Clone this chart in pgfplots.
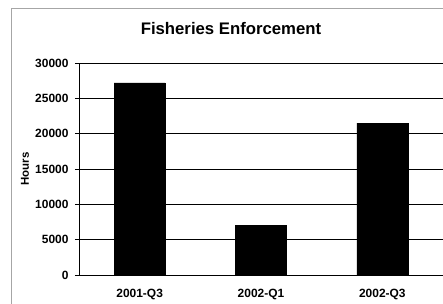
\documentclass[border=0pt]{standalone}
\usepackage{pgfplots}
\pgfplotsset{compat=1.18}
\usepackage{fontspec}
\setmainfont{Liberation Sans}
\begin{document}
\begin{tikzpicture}
\path[use as bounding box, fill=white] (0,0) rectangle (443bp,304bp);
\draw[gray!70, line width=1bp] (11bp,0) -- (11bp,295bp) -- (443bp,295bp);
\begin{axis}[
  at={(79bp,29bp)}, anchor=south west,
  scale only axis, width=364bp, height=212bp,
  xmin=-0.5, xmax=2.5, ymin=0, ymax=30000,
  xtick={0,1,2}, xticklabels={2001-Q3,2002-Q1,2002-Q3},
  ytick={0,5000,...,30000},
  scaled y ticks=false,
  axis x line*=bottom, axis y line*=left,
  x axis line style={-, line width=0.6bp},
  y axis line style={-, line width=0.8bp},
  ymajorgrids, grid style={black, line width=0.8bp},
  major x tick style={draw=none},
  ytick style={black, line width=0.8bp},
  tick align=outside, major tick length=4bp,
  /pgf/number format/1000 sep={},
  /pgf/number format/assume math mode=true,
  ticklabel style={font=\fontsize{12}{14}\selectfont\bfseries},
  xticklabel style={yshift=-7bp},
  yticklabel style={xshift=-3bp},
  clip=false,
]
\addplot[ybar, bar width=51bp, fill=black, draw=black] coordinates {(0,27200) (1,7000) (2,21500)};
\end{axis}
\node[anchor=base, font=\fontsize{16.8}{20}\selectfont\bfseries] at (231bp,269bp) {Fisheries Enforcement};
\node[rotate=90, font=\fontsize{11.5}{14}\selectfont\bfseries] at (25bp,135bp) {Hours};
\end{tikzpicture}
\end{document}
